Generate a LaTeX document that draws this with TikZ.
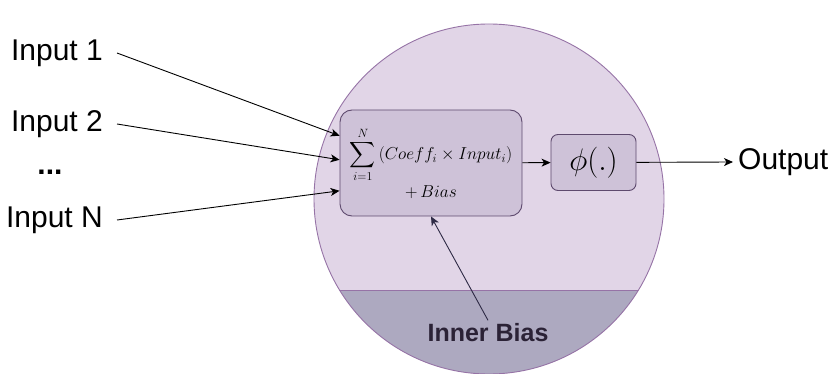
\documentclass[tikz,border=0pt]{standalone}
\usepackage{amsmath,amssymb}
\usepackage{fontspec}
\setmainfont{Liberation Sans}
\usepackage{xcolor}
\usetikzlibrary{shapes.geometric, arrows.meta, positioning, calc}
\definecolor{cellfill}{HTML}{E1D5E7}
\definecolor{cellline}{HTML}{9673A6}
\definecolor{boxfill}{HTML}{CEC2D8}
\definecolor{boxline}{HTML}{5E4A6E}
\definecolor{biasfill}{HTML}{ADA9C0}
\definecolor{biastext}{HTML}{2B2236}
\definecolor{biasarrow}{HTML}{2E2A45}

\begin{document}
\begin{tikzpicture}[
    x=1pt, y=-1pt,
    label/.style={font=\fontsize{30}{36}\selectfont, inner xsep=14pt, inner ysep=4pt},
    opbox/.style={
        rectangle, rounded corners=#1,
        draw=boxline, fill=boxfill, line width=0.9pt,
        align=center, inner sep=0pt
    },
    arrow/.style={-{Stealth[length=9pt, width=8pt, inset=2.5pt]}, line width=0.9pt, color=black}
]
\useasboundingbox (0,0) rectangle (830,374);

% neuron body
\node[circle, minimum size=350pt, inner sep=0pt] (cell) at (489,199) {};
\fill[cellfill] (cell.center) circle (175);
\begin{scope}
    \clip (cell.center) circle (175);
    \fill[biasfill] (300,290) rectangle (680,380);
    \draw[cellline, line width=0.6pt] (300,290) -- (680,290);
\end{scope}
\draw[cellline, line width=0.9pt] (cell.center) circle (175);

% operations
\node[opbox=12pt, minimum width=182pt, minimum height=106pt,
      font=\fontsize{18}{22}\selectfont] (sum) at (431,163)
    {$\displaystyle\sum_{i=1}^{N}\,(Coeff_i\times Input_i)$\\[2pt]
     $+\,Bias$};
\node[opbox=7pt, minimum width=85pt, minimum height=56pt,
      font=\fontsize{24}{28}\selectfont] (act) at (593.5,162.5) {\scalebox{1.25}{$\phi(.)$}};

% inputs and output
\node[label, anchor=east] (in1) at (117,53) {Input 1};
\node[label, anchor=east] (in2) at (117,124) {Input 2};
\node[label, inner sep=0pt] (dots) at (50,172) {\textbf{...}};
\node[label, anchor=east] (inN) at (117,220) {Input N};
\node[label, inner xsep=5pt, anchor=west] (out) at (733,162) {Output};

\node[font=\fontsize{25}{30}\selectfont\bfseries, text=biastext] (bias) at (488,333) {Inner Bias};

\draw[arrow] (in1.east) -- ($(sum.north west)!0.245!(sum.south west)$);
\draw[arrow] (in2.east) -- ($(sum.north west)!0.47!(sum.south west)$);
\draw[arrow] (inN.east) -- ($(sum.north west)!0.76!(sum.south west)$);
\draw[arrow] (sum) -- (act);
\draw[arrow] (act) -- (out.west);
\draw[arrow, color=biasarrow] (bias.north) -- (sum.south);

\end{tikzpicture}
\end{document}
